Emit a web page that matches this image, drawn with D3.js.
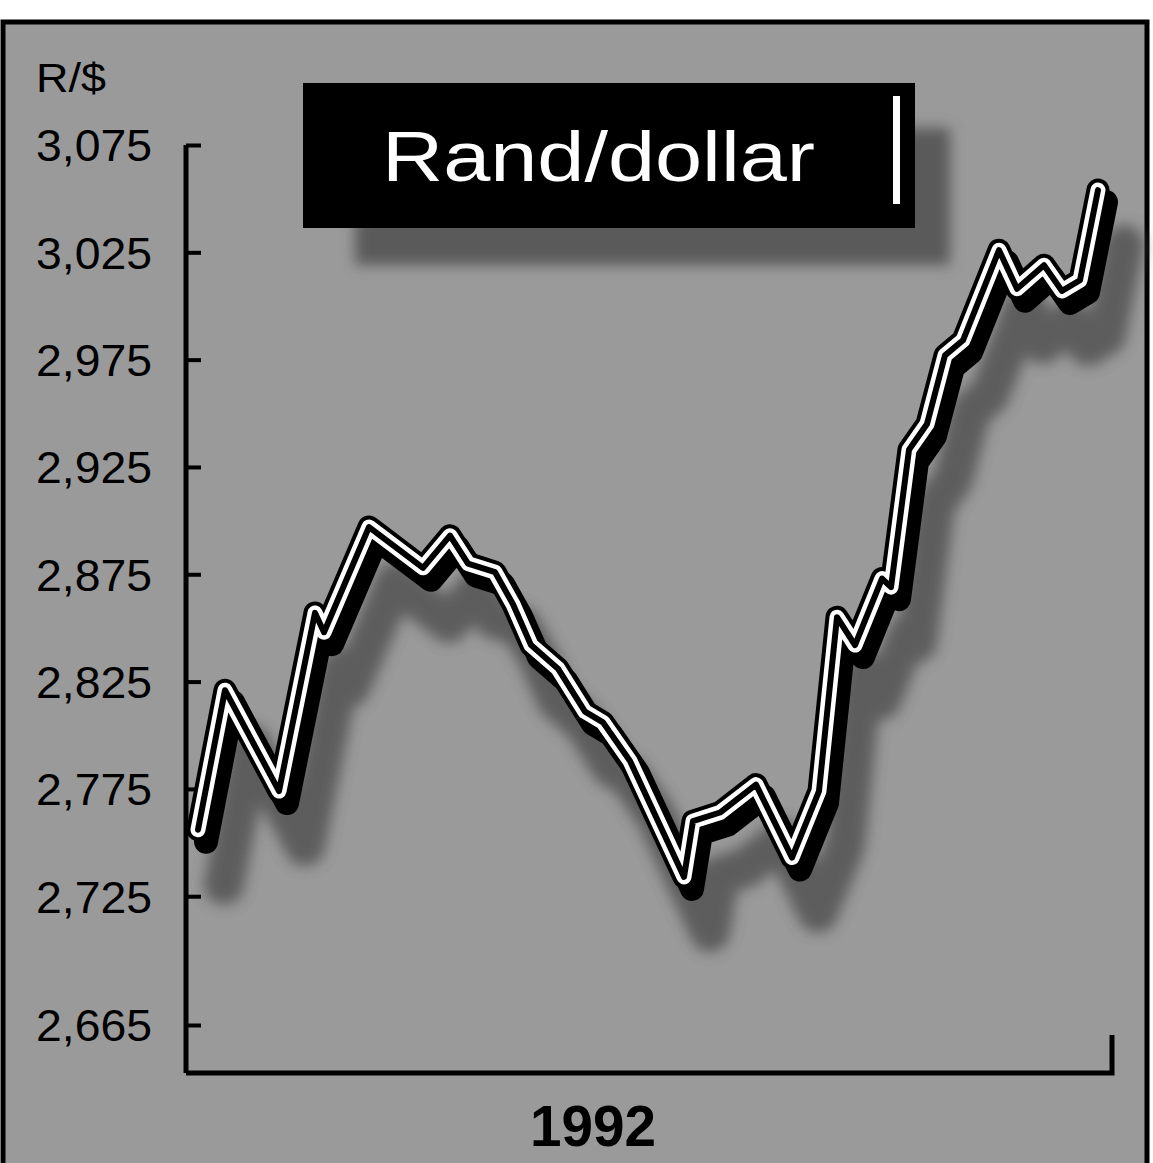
<!DOCTYPE html>
<html>
<head>
<meta charset="utf-8">
<script src="https://cdn.jsdelivr.net/npm/d3@7"></script>
<style>
  body { margin: 0; background: #fff; }
  #viz { width: 1153px; height: 1163px; }
</style>
</head>
<body>
<div id="viz"></div>
<script>
// rand per dollar, 1992 (day index inside the period shown)
const days = [0, 3, 9, 13, 14, 19, 25, 28, 30, 33, 35, 37, 40, 43, 45, 48, 54, 55, 58, 62,
  66, 69, 71, 73, 76, 77, 79, 81, 83, 85, 89, 91, 94, 96, 98, 100]
const rates = [2.756, 2.821, 2.774, 2.857, 2.848, 2.897, 2.878, 2.893, 2.880, 2.876,
  2.861, 2.842, 2.831, 2.811, 2.806, 2.788, 2.734, 2.760, 2.764, 2.777,
  2.743, 2.774, 2.855, 2.842, 2.873, 2.869, 2.933, 2.945, 2.977, 2.984,
  3.026, 3.008, 3.019, 3.007, 3.012, 3.054]
const yTicks = [3.075, 3.025, 2.975, 2.925, 2.875, 2.825, 2.775, 2.725, 2.665]
const title = "Rand/dollar"
const unitLabel = "R/$"
const yearLabel = "1992"

document.addEventListener("DOMContentLoaded", () => {

  const width = 1153
  const height = 1163

  const svg = d3.select("#viz").append("svg")
    .attr("width", width)
    .attr("height", height)

  const defs = svg.append("defs")
  defs.append("filter").attr("id", "soft")
    .attr("x", "-20%").attr("y", "-20%").attr("width", "140%").attr("height", "140%")
    .append("feGaussianBlur").attr("stdDeviation", 7)

  // paper + halftone panel
  svg.append("rect")
    .attr("x", 3).attr("y", 22)
    .attr("width", 1144).attr("height", 1160)
    .attr("fill", "#9a9a9a")
    .attr("stroke", "#000")
    .attr("stroke-width", 5)

  const x = d3.scaleLinear().domain([0, 100]).range([198, 1098])
  const y = d3.scaleLinear().domain([2.665, 3.075]).range([1025, 145])

  const data = days.map((d, i) => ({ day: d, rate: rates[i] }))
  const line = d3.line().x(d => x(d.day)).y(d => y(d.rate))

  // title box shadow
  svg.append("rect")
    .attr("x", 355).attr("y", 128)
    .attr("width", 595).attr("height", 137)
    .attr("fill", "#5a5a5a")
    .attr("filter", "url(#soft)")

  // line shadow
  svg.append("path")
    .datum(data)
    .attr("d", line)
    .attr("transform", "translate(26,55)")
    .attr("fill", "none")
    .attr("stroke", "#4a4a4a")
    .attr("stroke-width", 40)
    .attr("stroke-linejoin", "round")
    .attr("stroke-linecap", "round")
    .attr("opacity", 0.75)
    .attr("filter", "url(#soft)")

  // y axis
  const fmt = d3.format(".3f")
  const yAxis = d3.axisLeft(y)
    .tickValues(yTicks)
    .tickSizeInner(-15)
    .tickSizeOuter(0)
    .tickPadding(34)
    .tickFormat(d => fmt(d).replace(".", ","))

  const gy = svg.append("g")
    .attr("transform", "translate(186,0)")
    .call(yAxis)

  gy.select(".domain").attr("stroke", "#000").attr("stroke-width", 5)
    .attr("d", `M0,${y(3.075)}V1073`)
  gy.selectAll(".tick line").attr("stroke", "#000").attr("stroke-width", 4)
  gy.selectAll(".tick text")
    .attr("fill", "#000")
    .style("font-family", "'Liberation Sans', Arial, sans-serif")
    .style("font-size", "44px")
    .attr("textLength", 116)
    .attr("lengthAdjust", "spacingAndGlyphs")
    .attr("dy", "0.36em")

  // x axis
  svg.append("path")
    .attr("d", `M186,1073H1112V1035`)
    .attr("fill", "none")
    .attr("stroke", "#000")
    .attr("stroke-width", 5)

  // extruded edge of the ribbon
  svg.append("path")
    .datum(data)
    .attr("d", line)
    .attr("transform", "translate(8,12)")
    .attr("fill", "none")
    .attr("stroke", "#000")
    .attr("stroke-width", 24)
    .attr("stroke-linejoin", "round")
    .attr("stroke-linecap", "round")

  // front face: black, white, black
  const faces = [
    { w: 23, c: "#000" },
    { w: 15, c: "#fff" },
    { w: 6, c: "#000" }
  ]
  faces.forEach(f => {
    svg.append("path")
      .datum(data)
      .attr("d", line)
      .attr("fill", "none")
      .attr("stroke", f.c)
      .attr("stroke-width", f.w)
      .attr("stroke-linejoin", "round")
      .attr("stroke-linecap", "round")
  })

  // title box
  svg.append("rect")
    .attr("x", 303).attr("y", 83)
    .attr("width", 612).attr("height", 145)
    .attr("fill", "#000")
  svg.append("rect")
    .attr("x", 893).attr("y", 96)
    .attr("width", 7).attr("height", 108)
    .attr("fill", "#fff")
  svg.append("text")
    .attr("x", 382).attr("y", 181)
    .attr("fill", "#fff")
    .style("font-family", "'Liberation Sans', Arial, sans-serif")
    .style("font-size", "70px")
    .attr("textLength", 433)
    .attr("lengthAdjust", "spacingAndGlyphs")
    .text(title)

  svg.append("text")
    .attr("x", 36).attr("y", 92)
    .attr("fill", "#000")
    .style("font-family", "'Liberation Sans', Arial, sans-serif")
    .style("font-size", "40px")
    .attr("textLength", 70)
    .attr("lengthAdjust", "spacingAndGlyphs")
    .text(unitLabel)

  svg.append("text")
    .attr("x", 530).attr("y", 1146)
    .attr("fill", "#000")
    .style("font-family", "'Liberation Sans', Arial, sans-serif")
    .style("font-size", "58px")
    .style("font-weight", "bold")
    .attr("textLength", 126)
    .attr("lengthAdjust", "spacingAndGlyphs")
    .text(yearLabel)
})
</script>
</body>
</html>
